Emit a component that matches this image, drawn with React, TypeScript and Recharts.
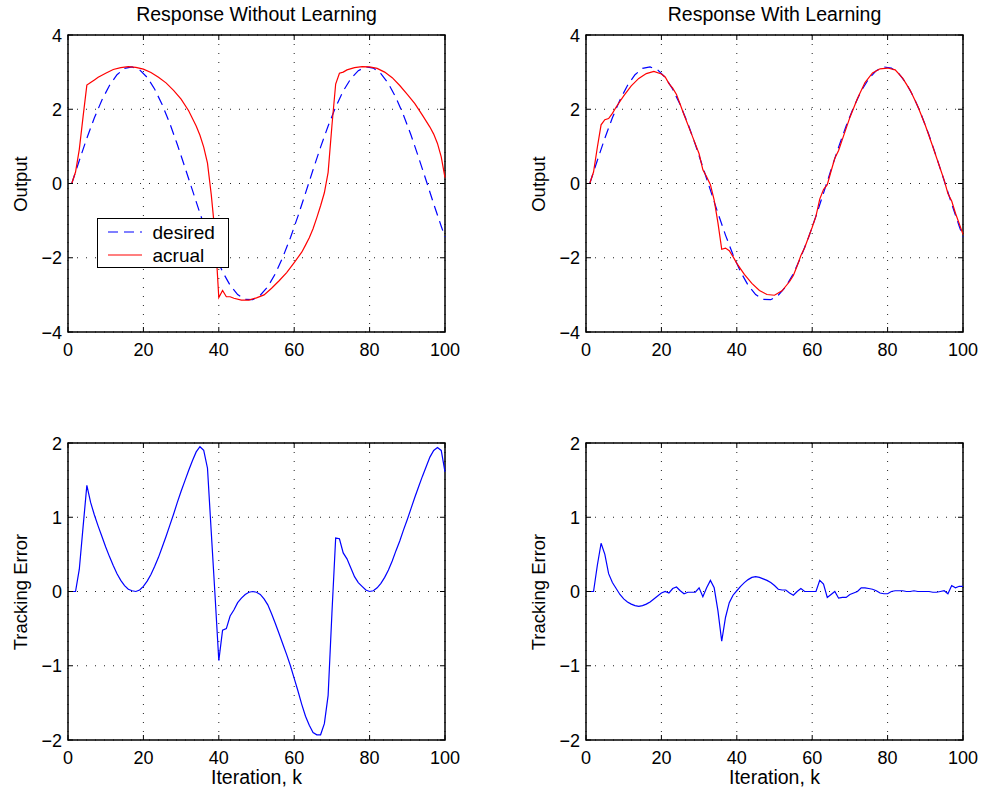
import React from "react";
import { LineChart, Line, XAxis, YAxis, CartesianGrid, ReferenceArea, Legend } from "recharts";

const FONT = "'Liberation Sans', Arial, Helvetica, sans-serif";
const PLOT_W = 377;
const PLOT_H = 297;
const TICK_LEN = 5;

const kTicks = [0, 20, 40, 60, 80, 100];
const outputTicks = [-4, -2, 0, 2, 4];
const errorTicks = [-2, -1, 0, 1, 2];
const legendOrder = ["desired", "acrual"];

// desired trajectory (same in both top panels)
const desiredK = [1, 3, 5, 7, 9, 11, 13, 15, 17, 19, 21, 23, 25, 27, 29, 31, 33, 35, 37, 39, 41, 43, 45, 47, 49, 51, 53, 55, 57, 59, 61, 63, 65, 67, 69, 71, 73, 75, 77, 79, 81, 83, 85, 87, 89, 91, 93, 95, 97, 99, 100];
const desired = [0, 0.62, 1.22, 1.77, 2.25, 2.64, 2.93, 3.1, 3.14, 3.06, 2.86, 2.54, 2.12, 1.62, 1.05, 0.44, -0.18, -0.8, -1.39, -1.92, -2.38, -2.74, -2.99, -3.12, -3.13, -3.01, -2.78, -2.43, -1.98, -1.46, -0.88, -0.26, 0.37, 0.98, 1.55, 2.06, 2.49, 2.82, 3.04, 3.14, 3.11, 2.96, 2.69, 2.31, 1.84, 1.3, 0.7, 0.08, -0.55, -1.15, -1.44];

// actual output without learning
const noLearnK = [1, 2, 3, 4, 5, 6, 7, 8, 10, 12, 14, 16, 18, 20, 22, 24, 26, 28, 30, 32, 34, 35, 36, 37, 38, 39, 40, 41, 42, 43, 44, 46, 48, 50, 52, 54, 56, 58, 60, 62, 63, 64, 65, 66, 67, 68, 69, 70, 71, 72, 73, 74, 76, 78, 80, 82, 84, 86, 88, 90, 92, 94, 96, 97, 98, 99, 100];
const noLearnOut = [0, 0.31, 0.92, 1.8, 2.65, 2.72, 2.79, 2.86, 2.97, 3.07, 3.12, 3.15, 3.13, 3.08, 2.99, 2.86, 2.71, 2.51, 2.27, 1.96, 1.55, 1.3, 0.98, 0.55, -0.3, -1.35, -3.07, -2.88, -3.05, -3.05, -3.09, -3.14, -3.14, -3.08, -3.0, -2.82, -2.62, -2.4, -2.13, -1.85, -1.66, -1.46, -1.22, -0.92, -0.6, -0.25, 0.3, 1.55, 2.68, 2.97, 3.0, 3.06, 3.12, 3.15, 3.14, 3.1, 3.0, 2.85, 2.64, 2.4, 2.15, 1.84, 1.52, 1.33, 1.08, 0.72, 0.16];

// actual output with learning
const learnK = [0, 1, 2, 3, 4, 5, 6, 7, 8, 10, 12, 14, 16, 18, 20, 21, 22, 23, 24, 25, 26, 28, 30, 31, 32, 33, 34, 35, 36, 37, 38, 39, 40, 42, 44, 46, 48, 50, 52, 54, 55, 56, 57, 58, 60, 61, 62, 63, 64, 65, 66, 67, 68, 70, 72, 74, 76, 78, 80, 82, 84, 86, 88, 90, 92, 94, 95, 96, 97, 98, 99, 100];
const learnOut = [0, 0, 0.31, 0.97, 1.58, 1.72, 1.75, 1.89, 2.06, 2.36, 2.63, 2.83, 2.96, 3.02, 2.95, 2.87, 2.69, 2.57, 2.4, 2.13, 1.85, 1.33, 0.8, 0.37, 0.18, -0.03, -0.45, -1.06, -1.77, -1.74, -1.81, -1.97, -2.15, -2.45, -2.69, -2.88, -2.99, -3.01, -2.89, -2.64, -2.48, -2.22, -1.94, -1.73, -1.18, -0.88, -0.42, -0.16, -0.03, 0.33, 0.68, 0.89, 1.19, 1.78, 2.29, 2.72, 2.98, 3.09, 3.11, 3.06, 2.84, 2.51, 2.08, 1.57, 0.99, 0.39, 0.09, -0.27, -0.47, -0.8, -1.08, -1.37];

// tracking error, k = 0..100
const iterations = Array.from({ length: 101 }, (_, i) => i);
const errNoLearn = [
  0, 0, 0, 0.3, 0.87, 1.43, 1.2, 1.03, 0.88, 0.74,
  0.6, 0.47, 0.35, 0.24, 0.15, 0.08, 0.03, 0.01, 0, 0.02,
  0.07, 0.14, 0.23, 0.34, 0.46, 0.6, 0.74, 0.89, 1.04, 1.2,
  1.35, 1.49, 1.63, 1.76, 1.88, 1.95, 1.9, 1.66, 0.8, -0.05,
  -0.93, -0.52, -0.5, -0.33, -0.25, -0.15, -0.09, -0.04, -0.01, 0,
  -0.01, -0.04, -0.1, -0.18, -0.3, -0.43, -0.57, -0.71, -0.85, -1.0,
  -1.17, -1.34, -1.52, -1.68, -1.8, -1.9, -1.93, -1.93, -1.78, -1.4,
  -0.3, 0.72, 0.71, 0.52, 0.44, 0.32, 0.2, 0.12, 0.07, 0.02,
  0, 0.01, 0.05, 0.11, 0.19, 0.29, 0.41, 0.55, 0.68, 0.83,
  0.97, 1.12, 1.27, 1.41, 1.55, 1.68, 1.81, 1.9, 1.94, 1.9,
  1.61,
];
const errLearn = [
  0, 0, 0, 0.35, 0.65, 0.5, 0.24, 0.12, 0.04, -0.04,
  -0.1, -0.14, -0.17, -0.19, -0.2, -0.19, -0.17, -0.14, -0.1, -0.06,
  -0.02, 0, -0.02, 0.04, 0.06, 0.01, -0.03, -0.01, -0.01, -0.01,
  0.05, -0.07, 0.05, 0.15, 0.05, -0.26, -0.67, -0.35, -0.15, -0.05,
  0.01, 0.07, 0.12, 0.16, 0.19, 0.2, 0.19, 0.17, 0.15, 0.12,
  0.08, 0.03, 0.02, 0.02, -0.02, -0.05, 0, 0.04, 0, 0,
  0, 0, 0.15, 0.1, -0.08, -0.04, 0, -0.09, -0.08, -0.08,
  -0.04, -0.02, 0, 0.05, 0.05, 0.04, 0.03, 0.01, -0.02, -0.03,
  -0.03, 0, 0.01, 0.01, 0.01, 0, 0, 0.01, 0, 0,
  0, 0, -0.01, -0.01, 0, 0.01, -0.03, 0.08, 0.05, 0.07,
  0.07,
];

type Row = { k: number; [key: string]: number };

function merge(series: { key: string; ks: number[]; vs: number[] }[]): Row[] {
  const rows = new Map<number, Row>();
  series.forEach(({ key, ks, vs }) =>
    ks.forEach((k, i) => {
      const row = rows.get(k) ?? { k };
      row[key] = vs[i];
      rows.set(k, row);
    })
  );
  return [...rows.values()].sort((a, b) => a.k - b.k);
}

const fmt = (v: number) => (v < 0 ? `\u2212${-v}` : `${v}`);

const XTick = (props: any) => {
  const { x, y, payload } = props;
  return (
    <g>
      <line x1={x} x2={x} y1={y} y2={y - TICK_LEN} stroke="#000" />
      <line x1={x} x2={x} y1={y - PLOT_H} y2={y - PLOT_H + TICK_LEN} stroke="#000" />
      <text x={x} y={y + 24} textAnchor="middle" fontSize={18} fontFamily={FONT} fill="#000">
        {fmt(payload.value)}
      </text>
    </g>
  );
};

const YTick = (props: any) => {
  const { x, y, payload } = props;
  return (
    <g>
      <line x1={x} x2={x + TICK_LEN} y1={y} y2={y} stroke="#000" />
      <line x1={x + PLOT_W - TICK_LEN} x2={x + PLOT_W} y1={y} y2={y} stroke="#000" />
      <text x={x - 6} y={y + 6.5} textAnchor="end" fontSize={18} fontFamily={FONT} fill="#000">
        {fmt(payload.value)}
      </text>
    </g>
  );
};

const LegendBox = (props: any) => {
  const items = [...(props.payload || [])].sort(
    (a: any, b: any) => legendOrder.indexOf(a.value) - legendOrder.indexOf(b.value)
  );
  return (
    <div
      style={{
        boxSizing: "border-box",
        width: 132,
        height: 50,
        border: "1.5px solid #000",
        background: "#fff",
        paddingTop: 1.5,
        fontFamily: FONT,
        fontSize: 19,
      }}
    >
      {items.map((e: any) => (
        <div key={e.value} style={{ display: "flex", alignItems: "center", height: 23 }}>
          <svg width={34} height={4} style={{ marginLeft: 9.5, marginRight: 11 }}>
            <line x1={0} x2={34} y1={2} y2={2} stroke={e.color} strokeWidth={1.2} strokeDasharray={e.payload?.strokeDasharray} />
          </svg>
          <span style={{ lineHeight: "23px" }}>{e.value}</span>
        </div>
      ))}
    </div>
  );
};

type Series = { key: string; name: string; color: string; dash?: string };

function Panel(props: {
  left: number;
  top: number;
  title?: string;
  yLabel: string;
  xLabel?: string;
  yTicks: number[];
  data: Row[];
  series: Series[];
  legend?: boolean;
}) {
  const { left, top, title, yLabel, xLabel, yTicks, data, series, legend } = props;
  const lo = yTicks[0];
  const hi = yTicks[yTicks.length - 1];
  return (
    <div style={{ position: "absolute", left, top, width: 460, height: 372, fontFamily: FONT }}>
      <LineChart width={460} height={372} data={data} margin={{ top: 35, right: 15, left: 0, bottom: 0 }}>
        <CartesianGrid stroke="#222" strokeDasharray="1 8" />
        <XAxis
          type="number"
          dataKey="k"
          domain={[0, 100]}
          ticks={kTicks}
          interval={0}
          height={40}
          tickSize={0}
          tickMargin={0}
          tickLine={false}
          axisLine={false}
          tick={XTick}
        />
        <YAxis
          type="number"
          domain={[lo, hi]}
          ticks={yTicks}
          interval={0}
          width={68}
          tickSize={0}
          tickMargin={0}
          tickLine={false}
          axisLine={false}
          tick={YTick}
        />
        <ReferenceArea x1={0} x2={100} y1={lo} y2={hi} fill="none" fillOpacity={0} stroke="#000" strokeWidth={1.5} ifOverflow="visible" />
        {series.map((s) => (
          <Line
            key={s.key}
            type="linear"
            dataKey={s.key}
            name={s.name}
            stroke={s.color}
            strokeWidth={1.2}
            strokeDasharray={s.dash}
            dot={false}
            activeDot={false}
            connectNulls
            isAnimationActive={false}
          />
        ))}
        {legend && (
          <Legend
            layout="vertical"
            align="center"
            verticalAlign="middle"
            wrapperStyle={{ left: 97, top: 218, width: 132, height: 50 }}
            content={LegendBox}
          />
        )}
      </LineChart>
      {title && (
        <div style={{ position: "absolute", left: 68, top: 2, width: PLOT_W, textAlign: "center", fontSize: 19.5, lineHeight: "24px" }}>
          {title}
        </div>
      )}
      <div
        style={{
          position: "absolute",
          left: 20 - PLOT_H / 2,
          top: 35 + PLOT_H / 2 - 12,
          width: PLOT_H,
          height: 24,
          lineHeight: "24px",
          textAlign: "center",
          fontSize: 18.5,
          transform: "rotate(-90deg)",
        }}
      >
        {yLabel}
      </div>
      {xLabel && (
        <div style={{ position: "absolute", left: 68, top: 357, width: PLOT_W, textAlign: "center", fontSize: 19.5, lineHeight: "24px" }}>
          {xLabel}
        </div>
      )}
    </div>
  );
}

const desiredSeries: Series = { key: "desired", name: "desired", color: "#0000ff", dash: "10 6" };
const actualSeries: Series = { key: "actual", name: "acrual", color: "#ff0000" };
const errorSeries: Series = { key: "err", name: "error", color: "#0000ff" };

const topLeftData = merge([
  { key: "desired", ks: desiredK, vs: desired },
  { key: "actual", ks: noLearnK, vs: noLearnOut },
]);
const topRightData = merge([
  { key: "desired", ks: desiredK, vs: desired },
  { key: "actual", ks: learnK, vs: learnOut },
]);
const bottomLeftData = merge([{ key: "err", ks: iterations, vs: errNoLearn }]);
const bottomRightData = merge([{ key: "err", ks: iterations, vs: errLearn }]);

export default function App() {
  return (
    <div style={{ position: "absolute", left: 0, top: 0, width: 984, height: 794, background: "#fff", fontFamily: FONT }}>
      <Panel
        left={0}
        top={0}
        title="Response Without Learning"
        yLabel="Output"
        yTicks={outputTicks}
        data={topLeftData}
        series={[desiredSeries, actualSeries]}
        legend
      />
      <Panel
        left={518}
        top={0}
        title="Response With Learning"
        yLabel="Output"
        yTicks={outputTicks}
        data={topRightData}
        series={[desiredSeries, actualSeries]}
      />
      <Panel
        left={0}
        top={408}
        yLabel="Tracking Error"
        xLabel="Iteration, k"
        yTicks={errorTicks}
        data={bottomLeftData}
        series={[errorSeries]}
      />
      <Panel
        left={518}
        top={408}
        yLabel="Tracking Error"
        xLabel="Iteration, k"
        yTicks={errorTicks}
        data={bottomRightData}
        series={[errorSeries]}
      />
    </div>
  );
}
